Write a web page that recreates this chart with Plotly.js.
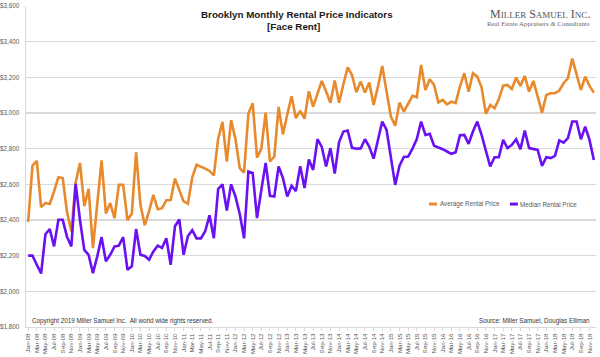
<!DOCTYPE html>
<html>
<head>
<meta charset="utf-8">
<script src="https://cdn.plot.ly/plotly-3.0.1.min.js"></script>
<style>html,body{margin:0;padding:0;background:#fff;}#chart{width:600px;height:357px;}</style>
</head>
<body>
<div id="chart"></div>
<script>
// Month categories Jan-08 .. Dec-18
const monthNames = ["Jan","Feb","Mar","Apr","May","Jun","Jul","Aug","Sep","Oct","Nov","Dec"];
const years = ["08","09","10","11","12","13","14","15","16","17","18"];
const categories = [];
years.forEach(y => monthNames.forEach(m => categories.push(m + "-" + y)));

const averageRent = [
 2390,2705,2732,2472,2495,2490,2560,2640,2635,2445,2336,2610,
 2720,2478,2575,2243,2490,2735,2437,2495,2410,2597,2597,2400,
 2435,2780,2485,2370,2450,2541,2460,2466,2511,2512,2632,2572,
 2504,2491,2640,2710,2700,2688,2675,2650,2856,2950,2728,2960,
 2855,2691,2666,2997,3055,2750,2800,3002,2728,2756,3034,2880,
 2992,3094,2971,3012,2968,3122,3036,3111,3180,3120,3058,3182,
 3058,3161,3256,3213,3116,3176,3115,3171,3045,3148,3264,3120,
 2980,2929,3058,3008,3055,3096,3088,3269,3129,3189,3157,3059,
 3073,3049,3064,3056,3150,3223,3120,3223,3204,3144,2995,3045,
 3027,3077,3153,3157,3135,3198,3152,3208,3120,3180,3092,3002,
 3101,3111,3111,3126,3167,3195,3305,3223,3129,3204,3152,3114
];
const medianRent = [
 2200,2200,2149,2100,2320,2349,2252,2401,2401,2305,2252,2603,
 2400,2232,2205,2102,2196,2304,2168,2205,2252,2256,2304,2121,
 2140,2349,2205,2198,2177,2224,2256,2243,2298,2149,2365,2403,
 2205,2310,2343,2297,2297,2337,2426,2298,2574,2600,2453,2600,
 2532,2434,2297,2672,2664,2411,2569,2720,2536,2532,2700,2635,
 2532,2592,2562,2702,2579,2739,2681,2853,2810,2700,2803,2660,
 2837,2896,2902,2805,2800,2801,2853,2810,2744,2851,2952,2905,
 2755,2597,2705,2754,2756,2800,2854,2952,2877,2883,2816,2808,
 2797,2784,2771,2780,2875,2877,2827,2896,2952,2877,2784,2700,
 2752,2752,2849,2803,2821,2853,2797,2902,2803,2800,2793,2704,
 2752,2747,2760,2846,2834,2859,2952,2952,2853,2924,2849,2737
];
const seriesNames = ["Average Rental Price", "Median Rental Price"];
const seriesColors = ["#E8892B", "#6A10F2"];
const yTicks = [1800,2000,2200,2400,2600,2800,3000,3200,3400,3600];
const xTickLabels = categories.filter((c, i) => i % 2 === 0);

const baseFont = "Liberation Sans, Arial, sans-serif";
const serifFont = "Liberation Serif, DejaVu Serif, serif";

const traces = [
  {x: categories, y: averageRent, name: seriesNames[0], type: "scatter", mode: "lines",
   line: {color: seriesColors[0], width: 2.6}, showlegend: false},
  {x: categories, y: medianRent, name: seriesNames[1], type: "scatter", mode: "lines",
   line: {color: seriesColors[1], width: 2.6}, showlegend: false}
];

// legend (drawn as small swatches + labels, like the original)
const legendY = 0.383;
const legendItems = [
  {x0: 0.707, x1: 0.721, tx: 0.722},
  {x0: 0.849, x1: 0.863, tx: 0.864}
];
const legendShapes = legendItems.map((it, i) => ({
  type: "line", xref: "paper", yref: "paper", x0: it.x0, x1: it.x1, y0: legendY, y1: legendY,
  line: {color: seriesColors[i], width: 3}
}));
const legendLabels = legendItems.map((it, i) => ({
  text: seriesNames[i], xref: "paper", yref: "paper", x: it.tx, y: legendY,
  xanchor: "left", yanchor: "middle", showarrow: false,
  font: {family: baseFont, size: 6.3, color: "#595959"}
}));

const layout = {
  width: 600, height: 357,
  margin: {l: 26, r: 4, t: 6, b: 30},
  paper_bgcolor: "#ffffff", plot_bgcolor: "#ffffff",
  font: {family: baseFont, size: 6.3, color: "#595959"},
  showlegend: false,
  xaxis: {type: "category", range: [-0.5, 131.5], tickmode: "array",
    tickvals: xTickLabels, ticktext: xTickLabels, tickangle: -90,
    tickfont: {size: 6.2, color: "#595959"}, showgrid: false, zeroline: false,
    showline: true, linecolor: "#d9d9d9", linewidth: 1,
    ticks: "outside", ticklen: 3, tickcolor: "#d9d9d9", fixedrange: true},
  yaxis: {range: [1800, 3600], tickmode: "array", tickvals: yTicks, tickformat: "$,.0f",
    tickfont: {size: 6.3, color: "#595959"}, showgrid: true, gridcolor: "#d9d9d9", gridwidth: 1.3,
    zeroline: false, showline: true, linecolor: "#d9d9d9", linewidth: 1.5, ticks: "",
    ticklabelstandoff: 4, fixedrange: true},
  shapes: legendShapes,
  annotations: [
    {text: "<b>Brooklyn Monthly Rental Price Indicators</b>", xref: "paper", yref: "paper",
     x: 0.476, y: 0.974, xanchor: "center", yanchor: "middle", showarrow: false,
     font: {family: baseFont, size: 9.8, color: "#1a1a1a"}},
    {text: "<b>[Face Rent]</b>", xref: "paper", yref: "paper",
     x: 0.469, y: 0.937, xanchor: "center", yanchor: "middle", showarrow: false,
     font: {family: baseFont, size: 9.8, color: "#1a1a1a"}},
    {text: "M<span style=\"font-size:9px\">ILLER</span> S<span style=\"font-size:9px\">AMUEL</span> I<span style=\"font-size:9px\">NC</span>.",
     xref: "paper", yref: "paper", x: 0.993, y: 0.975, xanchor: "right", yanchor: "middle",
     showarrow: false, font: {family: serifFont, size: 12, color: "#555"}},
    {text: "Real Estate Appraisers <i>&amp;</i> Consultants", xref: "paper", yref: "paper",
     x: 0.993, y: 0.944, xanchor: "right", yanchor: "middle", showarrow: false,
     font: {family: serifFont, size: 6.8, color: "#666"}},
    {text: "Copyright 2019 Miller Samuel Inc.  All world wide rights reserved.", xref: "paper", yref: "paper",
     x: 0.007, y: 0.02, xanchor: "left", yanchor: "middle", showarrow: false,
     font: {family: baseFont, size: 6.3, color: "#333"}},
    {text: "Source: Miller Samuel, Douglas Elliman", xref: "paper", yref: "paper",
     x: 0.993, y: 0.02, xanchor: "right", yanchor: "middle", showarrow: false,
     font: {family: baseFont, size: 6.3, color: "#333"}}
  ].concat(legendLabels)
};

Plotly.newPlot("chart", traces, layout, {displayModeBar: false, staticPlot: true});
</script>
</body>
</html>
